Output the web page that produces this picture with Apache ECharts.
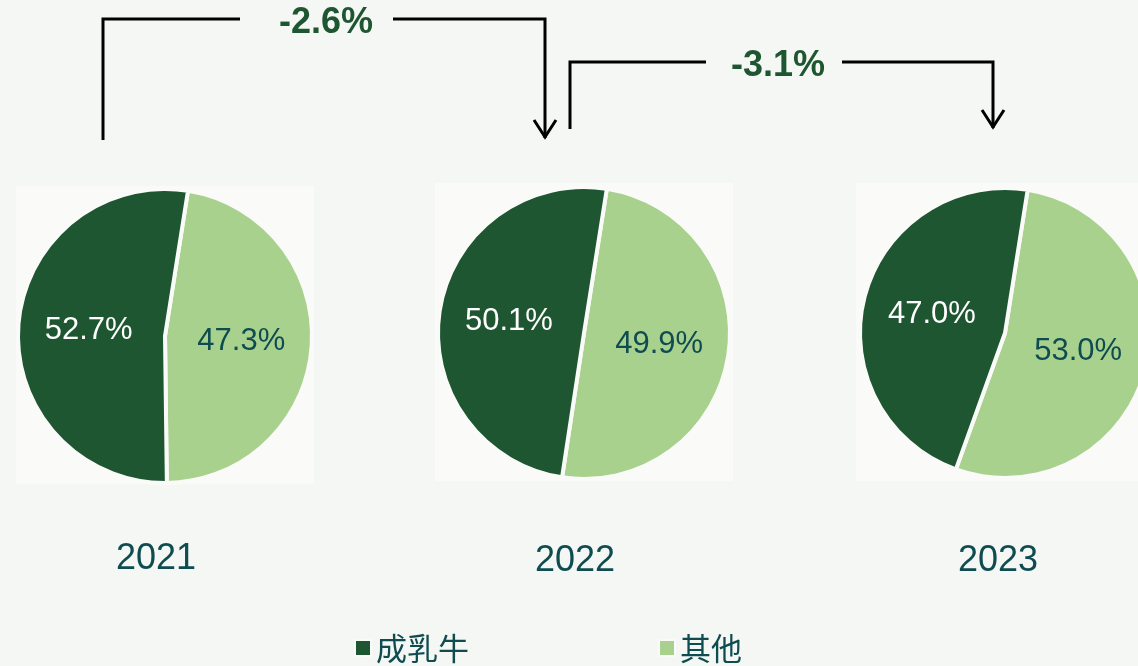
<!DOCTYPE html>
<html>
<head>
<meta charset="utf-8">
<style>
html,body{margin:0;padding:0;background:#f5f7f4;}
#c{width:1138px;height:666px;}
</style>
<script src="https://cdn.jsdelivr.net/npm/echarts@6/dist/echarts.min.js"></script>
</head>
<body>
<div id="c"></div>
<script>
// ---- data ----
const years = ['2021', '2022', '2023'];
const categories = ['成乳牛', '其他'];
const cowShare = [52.7, 50.1, 47.0];     // 成乳牛 %
const otherShare = [47.3, 49.9, 53.0];   // 其他 %
const changeLabels = ['-2.6%', '-3.1%'];

// ---- layout ----
const centers = [[165, 336], [584, 333], [1005, 333]];
const radii = [147, 146, 145];
const yearLabelPos = [[156, 559], [575, 561], [998, 561]];
const DARK = '#1e5631', LIGHT = '#a9d18e', TEAL = '#0f4c50';

const series = years.map((y, i) => ({
  type: 'pie',
  name: y,
  center: centers[i],
  radius: radii[i],
  startAngle: 81,
  clockwise: true,
  silent: true,
  animation: false,
  itemStyle: { borderColor: '#fafbf9', borderWidth: 4 },
  label: {
    show: true,
    position: 'inside',
    fontFamily: 'Liberation Sans, Arial, sans-serif',
    fontSize: 31,
    formatter: p => p.value.toFixed(1) + '%'
  },
  labelLine: { show: false },
  data: [
    { name: categories[1], value: otherShare[i], itemStyle: { color: LIGHT }, label: { color: TEAL } },
    { name: categories[0], value: cowShare[i], itemStyle: { color: DARK }, label: { color: '#ffffff' } }
  ]
}));

const graphics = [];
// faint white panels behind pies
centers.forEach((c, i) => {
  graphics.push({
    type: 'rect', z: -10,
    shape: { x: c[0] - 149, y: c[1] - 150, width: 298, height: 298 },
    style: { fill: '#fafbf9' }
  });
});
// year labels
years.forEach((y, i) => {
  graphics.push({
    type: 'text', x: yearLabelPos[i][0], y: yearLabelPos[i][1],
    style: { text: y, fill: TEAL, font: '36px "Liberation Sans", Arial, sans-serif', textAlign: 'center', textVerticalAlign: 'middle' }
  });
});
// change arrows
function arrow(x1, x2, yTop, yStart, yEnd, gapL, gapR, label, labelX) {
  const lw = 3;
  graphics.push({ type: 'polyline', shape: { points: [[x1, yStart], [x1, yTop], [gapL, yTop]] }, style: { stroke: '#000', lineWidth: lw, fill: null } });
  graphics.push({ type: 'polyline', shape: { points: [[gapR, yTop], [x2, yTop], [x2, yEnd]] }, style: { stroke: '#000', lineWidth: lw, fill: null } });
  graphics.push({ type: 'polyline', shape: { points: [[x2 - 11, yEnd - 18], [x2, yEnd - 1], [x2 + 11, yEnd - 18]] }, style: { stroke: '#000', lineWidth: lw, fill: null } });
  graphics.push({
    type: 'text', x: labelX, y: yTop + 4,
    style: { text: label, fill: DARK, font: 'bold 36px "Liberation Sans", Arial, sans-serif', textAlign: 'center', textVerticalAlign: 'middle' }
  });
}
arrow(103, 545, 19, 140, 138, 240, 393, changeLabels[0], 326);
arrow(570, 993, 62, 129, 128, 706, 842, changeLabels[1], 778);

const chart = echarts.init(document.getElementById('c'), null, { renderer: 'canvas' });
chart.setOption({
  backgroundColor: '#f5f7f4',
  animation: false,
  legend: {
    data: categories,
    left: 349,
    top: 627,
    icon: 'rect',
    itemWidth: 16,
    itemHeight: 16,
    itemGap: 189,
    selectedMode: false,
    textStyle: { color: TEAL, fontSize: 31, fontFamily: '"Noto Sans CJK SC", sans-serif', lineHeight: 32, padding: [0, 0, 0, 0] }
  },
  series: series,
  graphic: graphics
});
</script>
</body>
</html>
